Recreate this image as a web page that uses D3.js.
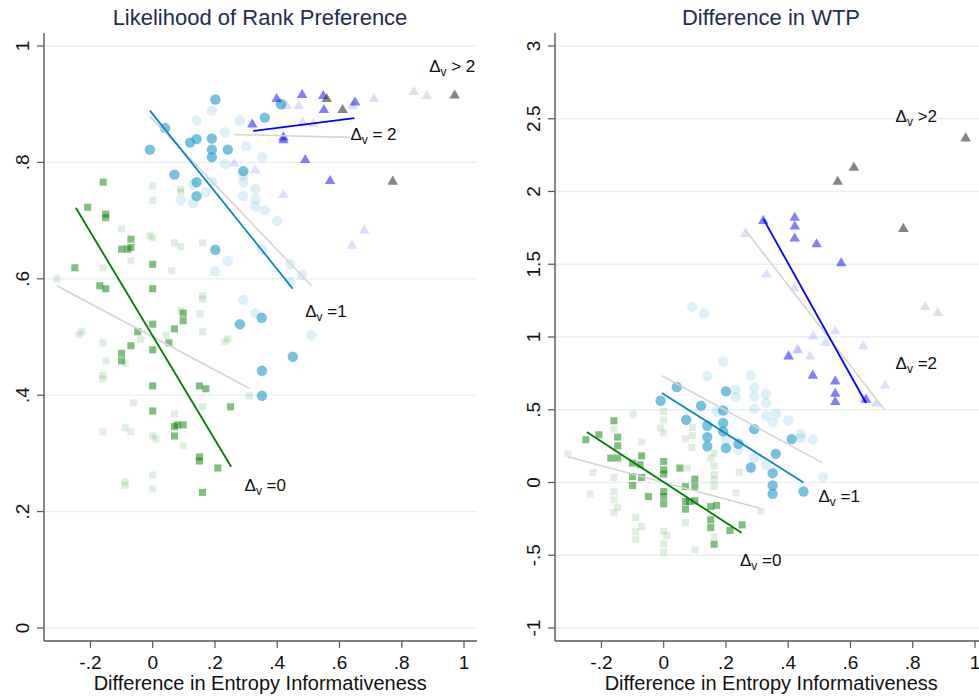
<!DOCTYPE html>
<meta charset="UTF-8">
<html>
<head>
	<title>Entropy informativeness</title>
	<script src="https://d3js.org/d3.v7.min.js"></script>
	<style>
		body { margin: 0; background: #fff; }
		text { font-family: "Liberation Sans", Arial, sans-serif; }
	</style>
</head>
<body>
	<svg id="chart" width="979" height="696"></svg>

	<script>
		// ---- left panel: likelihood of rank preference ----
		var rankGreen = [[-0.159,0.766],[-0.209,0.723],[-0.151,0.711],[-0.151,0.705],[-0.25,0.619],[-0.07,0.668],
			[-0.07,0.654],[-0.08,0.651],[-0.1,0.651],[0,0.625],[-0.17,0.588],[-0.151,0.583],[0,0.583],[0.098,0.541],
			[0.098,0.528],[0,0.522],[0.07,0.514],[-0.048,0.509],[0.052,0.49],[-0.07,0.485],[-0.1,0.472],[-0.1,0.459],
			[0,0.478],[0,0.416],[0.15,0.416],[0.171,0.411],[0,0.373],[0.25,0.38],[0.07,0.346],[0.07,0.33],[0.079,0.349],
			[0.098,0.349],[0.15,0.294],[0.15,0.287],[0.209,0.275],[0.16,0.233]];
		var rankGreenLight = [[0,0.76],[0,0.735],[0.09,0.754],[0.09,0.749],[-0.1,0.686],[-0.009,0.674],[0,0.67],
			[0.07,0.662],[0.09,0.655],[0.16,0.662],[-0.16,0.619],[-0.07,0.631],[0.061,0.614],[-0.308,0.6],[0.16,0.571],
			[0.16,0.565],[0.09,0.545],[0.152,0.54],[-0.237,0.504],[-0.228,0.509],[-0.16,0.49],[0.16,0.509],[0.043,0.503],
			[-0.039,0.496],[0.241,0.497],[0.232,0.492],[-0.15,0.459],[-0.089,0.455],[-0.16,0.434],[-0.16,0.428],
			[-0.061,0.387],[0.31,0.399],[0.16,0.38],[0.07,0.368],[-0.16,0.337],[-0.089,0.344],[-0.07,0.337],[0,0.33],
			[0.01,0.325],[0.098,0.313],[0,0.263],[0,0.239],[-0.089,0.251],[-0.089,0.245]];
		var rankBlue = [[0.201,0.908],[0.04,0.859],[-0.009,0.822],[0.12,0.834],[0.141,0.84],[0.19,0.841],[0.19,0.822],
			[0.19,0.809],[0.241,0.822],[0.36,0.877],[0.412,0.9],[0.291,0.785],[0.07,0.779],[0.141,0.766],[0.141,0.742],
			[0.201,0.65],[0.35,0.533],[0.28,0.522],[0.45,0.466],[0.351,0.442],[0.351,0.399]];
		var rankBlueLight = [[0.19,0.889],[0.141,0.872],[0.28,0.872],[0.232,0.852],[0.3,0.828],[0.351,0.809],[0.232,0.797],
			[0.291,0.778],[0.291,0.766],[0.19,0.767],[0.13,0.762],[0.171,0.749],[0.09,0.735],[0.13,0.73],[0.291,0.742],
			[0.33,0.754],[0.33,0.737],[0.33,0.724],[0.36,0.718],[0.4,0.699],[0.241,0.631],[0.201,0.613],[0.351,0.65],
			[0.441,0.625],[0.48,0.607],[0.441,0.595],[0.291,0.564],[0.33,0.541],[0.51,0.503],[0.412,0.902]];
		var rankTri = [[0.398,0.909],[0.48,0.916],[0.548,0.914],[0.55,0.89],[0.65,0.903],[0.32,0.865],[0.42,0.843],
			[0.42,0.838],[0.49,0.804],[0.57,0.768]];
		var rankTriLight = [[0.43,0.897],[0.469,0.897],[0.482,0.868],[0.516,0.866],[0.642,0.897],[0.711,0.909],
			[0.261,0.798],[0.33,0.786],[0.42,0.744],[0.68,0.683],[0.64,0.657]];
		var rankGray = [[0.559,0.909],[0.61,0.89],[0.97,0.915],[0.771,0.767]];
		var rankGrayLight = [[0.839,0.921],[0.88,0.914]];
		// fitted lines: [x0, y0, x1, y1]
		var rankFits = [
			{ key: "greenLight", seg: [-0.308,0.588,0.31,0.412] },
			{ key: "blueLight", seg: [-0.009,0.879,0.51,0.588] },
			{ key: "triLight", seg: [0.262,0.848,0.634,0.843] },
			{ key: "green", seg: [-0.247,0.722,0.252,0.277] },
			{ key: "blue", seg: [-0.009,0.889,0.45,0.583] },
			{ key: "tri", seg: [0.323,0.854,0.648,0.876] }
		];
		var rankLabels = [
			{ x: 0.888, y: 0.955, rest: " > 2" },
			{ x: 0.635, y: 0.838, rest: " = 2" },
			{ x: 0.49, y: 0.535, rest: " =1" },
			{ x: 0.295, y: 0.235, rest: " =0" }
		];
		var rankTicks = [0, 0.2, 0.4, 0.6, 0.8, 1];

		// ---- right panel: difference in WTP ----
		var wtpGreen = [[-0.16,0.424],[-0.208,0.328],[-0.25,0.294],[-0.148,0.312],[-0.148,0.252],[-0.17,0.168],
			[-0.148,0.168],[-0.071,0.183],[-0.1,0.133],[-0.076,0.122],[-0.1,0.041],[-0.071,0.034],[-0.1,-0.021],
			[0,0.144],[0,0.087],[0,0.058],[0.052,0.099],[-0.049,-0.097],[0,-0.062],[0,-0.097],[0,-0.147],
			[0.07,-0.028],[0.07,-0.131],[0.07,-0.183],[0.1,0.023],[0.1,-0.028],[0.082,-0.131],[0.1,-0.126],
			[0.151,-0.165],[0.17,-0.158],[0.151,-0.257],[0.151,-0.31],[0.252,-0.291],[0.213,-0.33],[0.162,-0.424]];
		var wtpGreenLight = [[-0.098,0.466],[0,0.488],[0,0.431],[-0.16,0.367],[-0.01,0.374],[0,0.34],[-0.071,0.278],
			[0.092,0.378],[0.092,0.323],[0.07,0.3],[0.09,0.241],[0.152,0.168],[0.162,0.202],[0.162,0.115],[0.162,0.053],
			[0.162,-0.028],[0.243,0.071],[-0.308,0.197],[-0.228,0.069],[-0.16,0.034],[-0.237,-0.078],[-0.16,-0.062],
			[-0.16,-0.119],[-0.148,-0.172],[-0.16,-0.207],[-0.09,-0.241],[-0.071,-0.303],[-0.09,-0.337],[-0.09,-0.39],
			[0,-0.337],[0.01,-0.365],[0,-0.422],[0,-0.479],[0.07,-0.276],[0.1,-0.463],[0.162,-0.372],[0.232,-0.069],
			[0.312,-0.2],[0.162,0.018],[0.076,0.099]];
		var wtpBlue = [[0.042,0.656],[-0.01,0.562],[0.2,0.626],[0.12,0.528],[0.072,0.431],[0.191,0.495],[0.191,0.409],
			[0.191,0.351],[0.14,0.39],[0.291,0.367],[0.14,0.312],[0.14,0.248],[0.2,0.236],[0.24,0.266],[0.411,0.298],
			[0.36,0.197],[0.28,0.103],[0.35,0.064],[0.35,-0.021],[0.35,-0.078],[0.449,-0.062]];
		var wtpBlueLight = [[0.091,1.207],[0.13,1.161],[0.14,0.734],[0.191,0.832],[0.28,0.734],[0.231,0.638],[0.231,0.587],
			[0.291,0.653],[0.291,0.592],[0.329,0.608],[0.329,0.546],[0.291,0.507],[0.329,0.459],[0.35,0.413],[0.36,0.473],
			[0.4,0.426],[0.44,0.335],[0.44,0.305],[0.479,0.298],[0.24,0.225],[0.291,0.168],[0.329,0.122],[0.511,0.037],
			[0.17,0.488],[0.2,0.289]];
		var wtpTri = [[0.32,1.798],[0.421,1.819],[0.421,1.759],[0.421,1.677],[0.491,1.637],[0.57,1.507],[0.401,0.867],
			[0.479,0.734],[0.551,0.695],[0.551,0.61],[0.551,0.553],[0.65,0.569]];
		var wtpTriLight = [[0.262,1.709],[0.33,1.431],[0.42,1.335],[0.48,1.004],[0.519,0.959],[0.551,1.039],
			[0.641,0.936],[0.429,0.913],[0.432,0.906],[0.47,0.867],[0.711,0.667],[0.639,0.576],[0.682,0.541]];
		var wtpGray = [[0.559,2.067],[0.611,2.163],[0.77,1.743],[0.97,2.365]];
		var wtpGrayLight = [[0.84,1.207],[0.88,1.165]];
		var wtpFits = [
			{ key: "greenLight", seg: [-0.308,0.177,0.312,-0.179] },
			{ key: "blueLight", seg: [-0.006,0.734,0.51,0.135] },
			{ key: "triLight", seg: [0.261,1.739,0.709,0.5] },
			{ key: "green", seg: [-0.247,0.347,0.25,-0.346] },
			{ key: "blue", seg: [-0.006,0.615,0.449,0] },
			{ key: "tri", seg: [0.32,1.812,0.65,0.546] }
		];
		var wtpLabels = [
			{ x: 0.745, y: 2.475, rest: " >2" },
			{ x: 0.745, y: 0.78, rest: " =2" },
			{ x: 0.497, y: -0.135, rest: " =1" },
			{ x: 0.245, y: -0.575, rest: " =0" }
		];
		var wtpTicks = [-1, -0.5, 0, 0.5, 1, 1.5, 2, 2.5, 3];

		var xTicks = [-0.2, 0, 0.2, 0.4, 0.6, 0.8, 1];

		// marker styles by group
		var styles = {
			green:      { shape: d3.symbolSquare,   size: 50, fill: "#008000", op: 0.5 },
			greenLight: { shape: d3.symbolSquare,   size: 50, fill: "#008000", op: 0.13 },
			blue:       { shape: d3.symbolCircle,   size: 85, fill: "#1a9bcc", op: 0.6 },
			blueLight:  { shape: d3.symbolCircle,   size: 85, fill: "#1a9bcc", op: 0.15 },
			tri:        { shape: d3.symbolTriangle, size: 48, fill: "#0000ff", op: 0.5 },
			triLight:   { shape: d3.symbolTriangle, size: 48, fill: "#0000ff", op: 0.13 },
			gray:       { shape: d3.symbolTriangle, size: 48, fill: "#333333", op: 0.6 },
			grayLight:  { shape: d3.symbolTriangle, size: 48, fill: "#333333", op: 0.15 }
		};
		var fitColors = {
			green: "#007a00", blue: "#0a86bb", tri: "#0000ff",
			greenLight: "#d4d4d4", blueLight: "#d4d4d4", triLight: "#d4d4d4"
		};

		var svg = d3.select("#chart");

		function fmt(v){
			// Stata style: drop the leading zero, plain hyphen
			var s = String(Math.round(v*10)/10);
			return s.replace(/^0\./, ".").replace(/^-0\./, "-.");
		}

		function drawPanel(p){
			var g = svg.append("g");
			var x = d3.scaleLinear().domain([0, 1]).range([p.x0, p.x0 + 311.3]);
			var y = d3.scaleLinear().domain(p.yDom).range([628, 46]);
			var left = p.x0 - 108.7, right = left + 433, top = 33, bottom = 641;

			// gridlines
			g.selectAll(".grid")
				.data(p.yTicks)
				.enter()
				.append("line")
					.attr("x1", left + 1).attr("x2", right)
					.attr("y1", function(d){ return y(d); })
					.attr("y2", function(d){ return y(d); })
					.attr("stroke", "#e6eff2")
					.attr("stroke-width", 1.3);

			// markers: faint groups first
			var order = ["greenLight", "blueLight", "triLight", "grayLight", "green", "blue", "tri", "gray"];
			order.forEach(function(k){
				var st = styles[k];
				g.selectAll(".m-" + k)
					.data(p.points[k])
					.enter()
					.append("path")
						.attr("d", d3.symbol().type(st.shape).size(st.size))
						.attr("transform", function(d){ return "translate(" + x(d[0]) + "," + y(d[1]) + ")"; })
						.style("fill", st.fill)
						.style("fill-opacity", st.op);
			});

			// fitted lines
			g.selectAll(".fit")
				.data(p.fits)
				.enter()
				.append("line")
					.attr("x1", function(d){ return x(d.seg[0]); })
					.attr("y1", function(d){ return y(d.seg[1]); })
					.attr("x2", function(d){ return x(d.seg[2]); })
					.attr("y2", function(d){ return y(d.seg[3]); })
					.attr("stroke", function(d){ return fitColors[d.key]; })
					.attr("stroke-width", function(d){ return d.key.indexOf("Light") > 0 ? 1.6 : 1.8; });

			// group labels
			var lab = g.selectAll(".lab")
				.data(p.labels)
				.enter()
				.append("text")
					.attr("x", function(d){ return x(d.x); })
					.attr("y", function(d){ return y(d.y); })
					.attr("font-size", 17)
					.attr("fill", "#111");
			lab.append("tspan").text("Δ");
			lab.append("tspan").text("v").attr("font-size", 12).attr("dy", 4);
			lab.append("tspan").text(function(d){ return d.rest; }).attr("dy", -4);

			// axes
			g.append("line")
				.attr("x1", left).attr("x2", left)
				.attr("y1", top).attr("y2", bottom)
				.attr("stroke", "#555").attr("stroke-width", 1.4);
			g.append("line")
				.attr("x1", left).attr("x2", right)
				.attr("y1", bottom).attr("y2", bottom)
				.attr("stroke", "#555").attr("stroke-width", 1.4);

			g.selectAll(".yt")
				.data(p.yTicks)
				.enter()
				.append("line")
					.attr("x1", left - 7).attr("x2", left)
					.attr("y1", function(d){ return y(d); })
					.attr("y2", function(d){ return y(d); })
					.attr("stroke", "#555").attr("stroke-width", 1.2);
			g.selectAll(".yl")
				.data(p.yTicks)
				.enter()
				.append("text")
					.attr("transform", function(d){ return "translate(" + (left - 15) + "," + y(d) + ") rotate(-90)"; })
					.attr("text-anchor", "middle")
					.attr("font-size", 19)
					.attr("fill", "#111")
					.text(fmt);

			g.selectAll(".xt")
				.data(xTicks)
				.enter()
				.append("line")
					.attr("x1", function(d){ return x(d); })
					.attr("x2", function(d){ return x(d); })
					.attr("y1", bottom).attr("y2", bottom + 7)
					.attr("stroke", "#555").attr("stroke-width", 1.2);
			g.selectAll(".xl")
				.data(xTicks)
				.enter()
				.append("text")
					.attr("x", function(d){ return x(d); })
					.attr("y", 669)
					.attr("text-anchor", "middle")
					.attr("font-size", 19)
					.attr("fill", "#111")
					.text(fmt);

			g.append("text")
				.attr("x", p.x0 + 107.5).attr("y", 690)
				.attr("text-anchor", "middle")
				.attr("font-size", 20)
				.attr("fill", "#111")
				.text("Difference in Entropy Informativeness");

			g.append("text")
				.attr("x", p.titleX).attr("y", 25)
				.attr("text-anchor", "middle")
				.attr("font-size", 22)
				.attr("fill", "#1e2d50")
				.text(p.title);
		}

		drawPanel({
			x0: 152.7, yDom: [0, 1], yTicks: rankTicks, title: "Likelihood of Rank Preference", titleX: 260,
			points: { green: rankGreen, greenLight: rankGreenLight, blue: rankBlue, blueLight: rankBlueLight,
				tri: rankTri, triLight: rankTriLight, gray: rankGray, grayLight: rankGrayLight },
			fits: rankFits, labels: rankLabels
		});
		drawPanel({
			x0: 663.7, yDom: [-1, 3], yTicks: wtpTicks, title: "Difference in WTP", titleX: 771,
			points: { green: wtpGreen, greenLight: wtpGreenLight, blue: wtpBlue, blueLight: wtpBlueLight,
				tri: wtpTri, triLight: wtpTriLight, gray: wtpGray, grayLight: wtpGrayLight },
			fits: wtpFits, labels: wtpLabels
		});
	</script>
</body>
</html>
